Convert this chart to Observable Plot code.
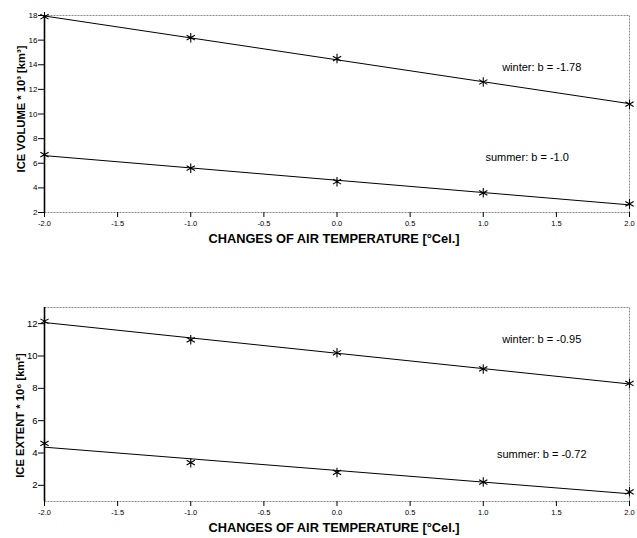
<!DOCTYPE html>
<html><head><meta charset="utf-8">
<script src="https://cdn.jsdelivr.net/npm/d3@7"></script>
<script src="https://cdn.jsdelivr.net/npm/@observablehq/plot@0.6"></script>
<style>
body{margin:0;background:#fff;}
#c{position:relative;width:637px;height:538px;}
#c > div, #c > svg{position:absolute;left:0;}
</style>
</head><body><div id="c"></div>
<script>
const temps = [-2, -1, 0, 1, 2];
const volWinter = [17.9, 16.2, 14.5, 12.6, 10.8];
const volSummer = [6.7, 5.6, 4.5, 3.6, 2.7];
const extWinter = [12.15, 11.0, 10.2, 9.2, 8.3];
const extSummer = [4.6, 3.4, 2.8, 2.2, 1.6];
const xTicks = [-2, -1.5, -1, -0.5, 0, 0.5, 1, 1.5, 2];
const volTicks = [2, 4, 6, 8, 10, 12, 14, 16, 18];
const extTicks = [2, 4, 6, 8, 10, 12];
const volNotes = ["winter: b = -1.78", "summer: b = -1.0"];
const extNotes = ["winter: b = -0.95", "summer: b = -0.72"];
const xTitle = "CHANGES OF AIR TEMPERATURE [°Cel.]";
const volTitle = "ICE VOLUME * 10³ [km³]";
const extTitle = "ICE EXTENT * 10⁶ [km²]";

const FONT = "'Liberation Sans', Arial, Helvetica, sans-serif";

function makeChart({winter, summer, yDomain, yTicks, yTitle, notes, notePos, height, mt, mb, yTickFont, titleDx, titleDy, titleSize}) {
  const rows = temps.flatMap((t, i) => [
    {t, v: winter[i], s: "winter"},
    {t, v: summer[i], s: "summer"}
  ]);
  const noteRows = notes.map((text, i) => ({text, x: notePos[i][0], y: notePos[i][1]}));
  return Plot.plot({
    width: 637,
    height,
    marginTop: mt,
    marginBottom: mb,
    marginLeft: 44,
    marginRight: 8,
    style: {fontFamily: FONT, background: "#fff", color: "#000"},
    x: {domain: [-2, 2]},
    y: {domain: yDomain},
    marks: [
      Plot.frame({stroke: "#888", strokeDasharray: "2,1"}),
      Plot.axisX({ticks: xTicks, tickFormat: d => d.toFixed(1), tickSize: 5, fontSize: 7.5, label: null, tickPadding: 3}),
      Plot.axisY({ticks: yTicks, tickFormat: d => String(d), tickSize: 6, fontSize: yTickFont, label: null, tickPadding: 1}),
      Plot.ruleX([-2], {stroke: "#000", strokeWidth: 1.6}),
      Plot.linearRegressionY(rows, {x: "t", y: "v", z: "s", stroke: "#000", strokeWidth: 1, ci: 0}),
      Plot.dot(rows, {x: "t", y: "v", symbol: "asterisk", r: 4.5, stroke: "#000", strokeWidth: 1.1}),
      Plot.text(noteRows, {x: "x", y: "y", text: "text", fontSize: 11, fill: "#000"}),
      Plot.text([yTitle], {frameAnchor: "left", textAnchor: "middle", rotate: -90, dx: titleDx, dy: titleDy, fontSize: titleSize, fontWeight: "bold", fill: "#000"}),
      Plot.text([xTitle], {frameAnchor: "bottom", dx: -3, dy: 30, fontSize: 12.8, fontWeight: "bold", fill: "#000"})
    ]
  });
}

const c = document.getElementById("c");
const top1 = makeChart({
  winter: volWinter, summer: volSummer, yDomain: [2, 18], yTicks: volTicks,
  yTitle: volTitle, notes: volNotes, notePos: [[1.40, 13.75], [1.30, 6.5]],
  height: 250, mt: 15, mb: 38, yTickFont: 8, titleDx: -23, titleDy: -5, titleSize: 11.2
});
top1.style.top = "0px";
c.appendChild(top1);
const bot = makeChart({
  winter: extWinter, summer: extSummer, yDomain: [1, 13], yTicks: extTicks,
  yTitle: extTitle, notes: extNotes, notePos: [[1.40, 11.0], [1.40, 3.9]],
  height: 248, mt: 17, mb: 37, yTickFont: 9.5, titleDx: -24, titleDy: 11, titleSize: 11.2
});
bot.style.top = "290px";
c.appendChild(bot);
</script>
</body></html>
